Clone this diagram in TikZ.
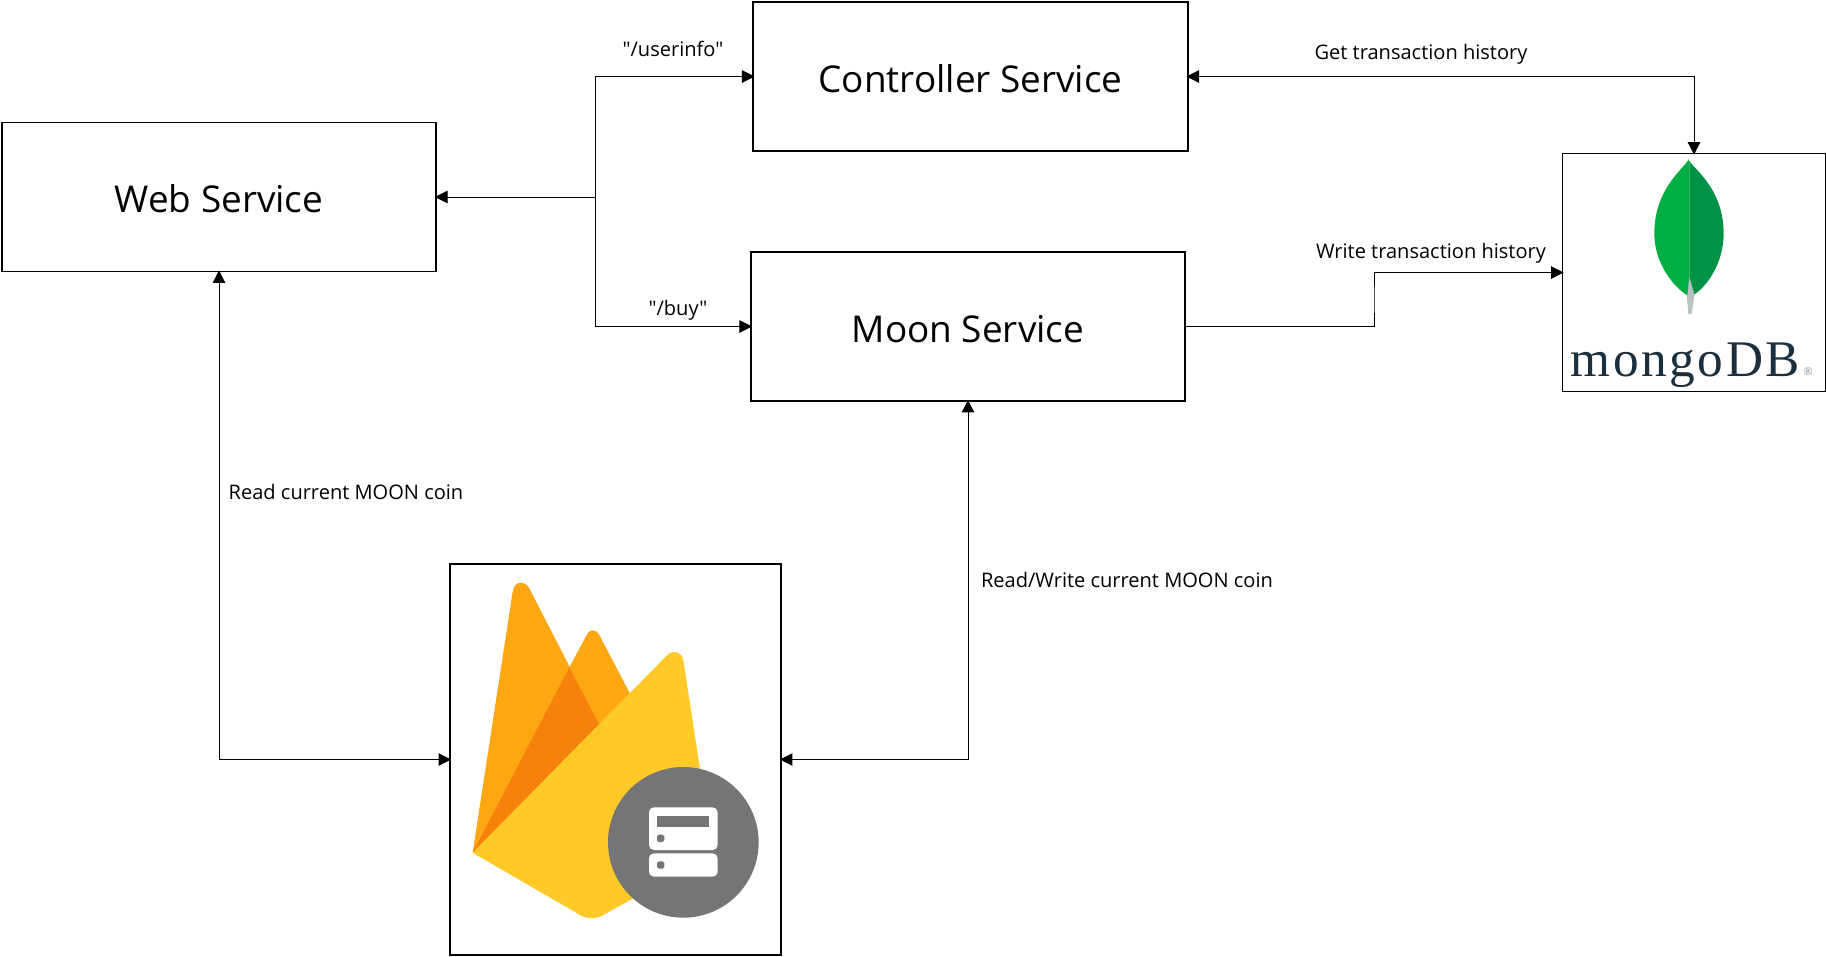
\documentclass[tikz,border=0pt]{standalone}
\usepackage{fontspec}
\setmainfont{Open Sans}[Ligatures=TeXOff]
\newfontfamily\logofont{Liberation Serif}[LetterSpace=5]
\usetikzlibrary{arrows.meta}
\definecolor{flameA}{HTML}{FFA712}
\definecolor{flameB}{HTML}{F6820C}
\definecolor{flameC}{HTML}{FFCA28}
\definecolor{badge}{HTML}{757575}
\definecolor{leafA}{HTML}{00AE42}
\definecolor{leafB}{HTML}{009345}
\definecolor{leafC}{HTML}{B8C4C2}
\definecolor{logotext}{HTML}{1B2F3E}
\begin{document}
\begin{tikzpicture}[x=0.01cm,y=-0.01cm,>={Triangle[length=0.125cm,width=0.125cm]}]
    \tikzstyle{box}=[draw,line width=0.5pt,minimum width=4.34cm,minimum height=1.49cm,inner sep=0pt,text height=9.05pt,text depth=0pt,font=\fontsize{10.5pt}{12pt}\selectfont];
    \tikzstyle{logobox}=[draw,line width=0.5pt,inner sep=0pt];
    \tikzstyle{tag}=[inner sep=0pt,font=\fontsize{5.7pt}{7pt}\selectfont];
    \tikzstyle{wire}=[line width=0.28pt,shorten >=-0.02cm];
    \tikzstyle{wirex}=[line width=0.28pt,shorten >=-0.02cm,shorten <=-0.02cm];
    \useasboundingbox (0,0) rectangle (1826,956);

    \node at (219,197)  (web)  [box] {Web Service};
    \node at (970.5,76.5)   (ctrl) [box] {Controller Service};
    \node at (968,326.5)  (moon) [box] {Moon Service};
    \node at (1694,272.5) (mongo) [logobox,minimum width=2.63cm,minimum height=2.38cm] {};
    \node at (615.5,759.5) (fire) [logobox,minimum width=3.31cm,minimum height=3.91cm] {};

    \coordinate (branch) at (595,197);
    \coordinate (bend) at (1374,300);
    \draw[wire,->] (branch) to (web.east);
    \draw[wire,->] (branch) |- (ctrl.west);
    \draw[wire,->] (branch) |- (moon.west);
    \draw[wirex,<->] (ctrl.east) -| (mongo.north);
    \draw[wire,->] (moon.east) -| (bend) |- (mongo.west);
    \draw[wirex,<->] (web.south) |- (fire.west);
    \draw[wirex,<->] (moon.south) |- (fire.east);

    \node at (673,49)    (t1) [tag] {"/userinfo"};
    \node at (678,310)   (t2) [tag] {"/buy"};
    \node at (1421,54)   (t3) [tag] {Get transaction history};
    \node at (1431,253)  (t4) [tag] {Write transaction history};
    \node at (346,492)   (t5) [tag] {Read current MOON coin};
    \node at (1127,580)  (t6) [tag] {Read/Write current MOON coin};

    % firebase logo
    \begin{scope}[shift={(430,550)},scale=1/3]
    \fill[flameA] (128,908) -- (248,125) .. controls (252,92) and (285,90) .. (298,115) -- (520,547) -- cycle;
    \fill[flameA] (418,352) -- (470,255) .. controls (478,236) and (498,236) .. (508,255) -- (610,450) -- (520,547) -- cycle;
    \fill[flameB] (128,908) -- (418,352) -- (520,547) -- cycle;
    \fill[flameC] (128,908) -- (712,315) .. controls (730,298) and (755,305) .. (760,330) -- (812,670) -- (610,1045) -- (520,1095) .. controls (495,1108) and (475,1108) .. (450,1095) -- cycle;
    \fill[badge] (760,877) circle (226);
    \fill[white,rounded corners=1.4pt] (657,772) rectangle (863,900);
    \fill[white,rounded corners=1.4pt] (657,910) rectangle (863,980);
    \fill[badge] (682,798) rectangle (838,830);
    \fill[badge,rounded corners=0.5pt] (681,854) rectangle (703,876);
    \fill[badge,rounded corners=0.5pt] (681,934) rectangle (703,956);
    \end{scope}

    % mongodb logo
    \begin{scope}[shift={(1500,130)},scale=1/3]
    \fill[leafC] (568,440) -- (560,492) -- (565,552) -- (575,552) -- (584,490) -- cycle;
    \fill[leafA] (565,88) .. controls (560,110) and (463,170) .. (463,310) .. controls (463,400) and (520,470) .. (562,496) -- (568,440) -- (568,100) -- cycle;
    \fill[leafB] (565,88) .. controls (572,110) and (671,170) .. (671,310) .. controls (671,400) and (620,470) .. (583,493) -- (568,440) -- (568,100) -- cycle;
    \end{scope}
    \node at (1570,376) (mongotext) [anchor=base west,inner sep=0pt,text=logotext,font=\logofont\fontsize{14.6pt}{15pt}\selectfont] {mongoDB};
    \node at (1808,371) (mongoreg) [inner sep=0pt,text=leafC!70!black,font=\logofont\fontsize{3.5pt}{4pt}\selectfont] {®};
\end{tikzpicture}
\end{document}
